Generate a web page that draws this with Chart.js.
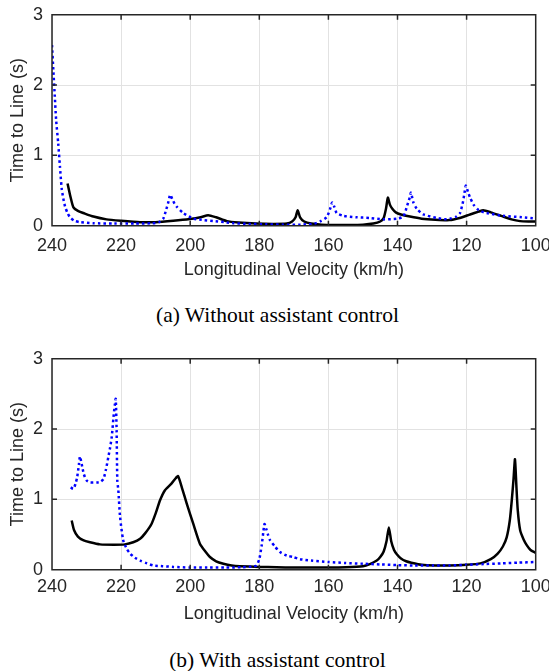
<!DOCTYPE html>
<html>
<head>
<meta charset="utf-8">
<script src="https://cdn.jsdelivr.net/npm/chart.js@4.4.1/dist/chart.umd.min.js"></script>
<style>
  html, body { margin: 0; padding: 0; background: #fff; }
  body { position: relative; width: 549px; height: 671px; overflow: hidden; }
  canvas { position: absolute; left: 0; }
  #chartA { top: 0; }
  #chartB { top: 343.6px; }
  .caption {
    position: absolute; left: 3px; width: 549px; text-align: center;
    font-family: "Liberation Serif", "Times New Roman", serif;
    font-size: 21.5px; line-height: 22px; color: #000;
  }
</style>
</head>
<body>
<canvas id="chartA" width="549" height="290"></canvas>
<div class="caption" style="top:304px">(a) Without assistant control</div>
<canvas id="chartB" width="549" height="290"></canvas>
<div class="caption" style="top:649px">(b) With assistant control</div>
<script>
"use strict";

// (a) without assistant control
const velBlackA = [235.5, 234.6, 233.8, 232.5, 230.9, 228, 224.2, 220, 214.5, 210,
  204.9, 200.1, 197, 194.8, 192.5, 189.4, 186, 181, 176, 172,
  170.5, 169.5, 168.9, 168.2, 167, 165, 162, 158, 154, 150,
  147, 145, 144, 143.3, 142.8, 142.2, 141.5, 140.5, 139, 136.4,
  133, 129, 125, 122, 119, 116.5, 115.2, 113, 110, 107,
  104.5, 102, 100];
const ttlBlackA = [0.6, 0.4, 0.26, 0.21, 0.18, 0.13, 0.09, 0.07, 0.05, 0.05,
  0.07, 0.095, 0.12, 0.15, 0.12, 0.065, 0.045, 0.03, 0.025, 0.03,
  0.06, 0.12, 0.22, 0.12, 0.06, 0.03, 0.015, 0.01, 0.01, 0.015,
  0.03, 0.06, 0.11, 0.25, 0.4, 0.3, 0.24, 0.19, 0.16, 0.13,
  0.1, 0.085, 0.08, 0.11, 0.16, 0.2, 0.22, 0.19, 0.14, 0.09,
  0.065, 0.06, 0.06];
const velBlueA = [240, 239.6, 239.2, 238.8, 238.2, 237.7, 237.2, 236.7, 236.2, 235.5,
  234.8, 233.5, 231.9, 228, 222, 216, 211, 209, 207.8, 207,
  206.3, 205.8, 205.2, 204.5, 203.9, 202, 199.1, 196, 193.3, 190,
  187.5, 183, 178, 173, 168, 164, 162.4, 160.5, 159.5, 158.9,
  158.3, 157.6, 155.7, 152, 148, 144.1, 140.2, 138.3, 137.3, 136.4,
  136.1, 135.4, 134.4, 132.5, 128.7, 125.8, 124.8, 123, 121.9, 121,
  120.5, 120.2, 119.6, 119, 118, 116.5, 114.2, 109.4, 104, 100];
const ttlBlueA = [2.57, 2.2, 1.85, 1.5, 1.17, 0.84, 0.53, 0.38, 0.27, 0.18,
  0.12, 0.07, 0.05, 0.035, 0.03, 0.03, 0.035, 0.05, 0.1, 0.22,
  0.34, 0.44, 0.38, 0.31, 0.27, 0.18, 0.1, 0.08, 0.067, 0.05,
  0.035, 0.025, 0.02, 0.015, 0.015, 0.03, 0.06, 0.12, 0.24, 0.33,
  0.27, 0.18, 0.14, 0.12, 0.11, 0.09, 0.1, 0.13, 0.27, 0.41,
  0.47, 0.33, 0.24, 0.16, 0.11, 0.09, 0.1, 0.13, 0.18, 0.35,
  0.5, 0.57, 0.48, 0.4, 0.3, 0.22, 0.18, 0.14, 0.12, 0.1];

// (b) with assistant control
const velBlackB = [234.3, 233.6, 232.5, 231, 229, 226.1, 222, 218.9, 216.5, 214.5,
  213, 211.2, 210, 208.7, 207.3, 205.5, 204.2, 203.5, 202.3, 201,
  199.1, 197.2, 195.5, 194.3, 192.5, 190.4, 188, 185.6, 180, 175,
  170, 165, 160, 155, 150, 148, 146, 145, 144, 143.2,
  142.5, 141.8, 141, 140.2, 139, 137.5, 136, 133, 129, 125,
  120, 116, 113, 111, 109.5, 108.4, 107.5, 106.9, 106.4, 106,
  105.6, 105.2, 104.5, 103.5, 102.6, 101.5, 100];
const ttlBlackB = [0.7, 0.56, 0.47, 0.42, 0.39, 0.36, 0.355, 0.36, 0.39, 0.44,
  0.52, 0.65, 0.8, 0.99, 1.13, 1.22, 1.3, 1.33, 1.15, 0.94,
  0.65, 0.37, 0.25, 0.18, 0.12, 0.085, 0.06, 0.05, 0.04, 0.035,
  0.03, 0.03, 0.03, 0.035, 0.05, 0.08, 0.13, 0.18, 0.26, 0.4,
  0.6, 0.4, 0.28, 0.22, 0.16, 0.12, 0.1, 0.07, 0.06, 0.06,
  0.07, 0.09, 0.15, 0.23, 0.33, 0.46, 0.7, 1.0, 1.3, 1.57,
  1.2, 0.85, 0.56, 0.43, 0.35, 0.28, 0.24];
const velBlueB = [234.6, 233.8, 233.2, 232.7, 232.2, 231.9, 231.4, 230.8, 230, 229,
  228, 227, 226, 225.1, 224.4, 223.7, 223.2, 222.7, 222.2, 221.8,
  221.55, 221.3, 221.1, 220.8, 220.3, 219.4, 218.4, 217.4, 216, 214.5,
  212.5, 210.7, 208, 204.9, 200, 195, 190, 185, 182, 180.8,
  180, 179.3, 178.8, 178.5, 178, 177.5, 176.9, 175.5, 174, 172,
  170.2, 168.2, 165, 160, 155, 150, 145, 140, 135, 130,
  125, 120, 115, 110, 105, 100];
const ttlBlueB = [1.17, 1.15, 1.22, 1.32, 1.5, 1.61, 1.5, 1.36, 1.27, 1.24,
  1.24, 1.24, 1.25, 1.29, 1.42, 1.6, 1.73, 1.89, 2.17, 2.35,
  2.43, 1.98, 1.27, 1.13, 0.75, 0.42, 0.3, 0.23, 0.17, 0.13,
  0.09, 0.06, 0.05, 0.04, 0.03, 0.03, 0.03, 0.035, 0.045, 0.06,
  0.15, 0.35, 0.55, 0.65, 0.58, 0.5, 0.42, 0.33, 0.25, 0.2,
  0.18, 0.15, 0.13, 0.11, 0.095, 0.085, 0.075, 0.065, 0.06, 0.06,
  0.06, 0.07, 0.08, 0.09, 0.1, 0.11];

const velTicks = [240, 220, 200, 180, 160, 140, 120, 100];
const ttlTicks = [0, 1, 2, 3];

const textColor = "#262626";
const axisFont = { family: "'Liberation Sans', Arial, sans-serif", size: 18 };

function points(xs, ys) {
  return xs.map((v, i) => ({ x: v, y: ys[i] }));
}

// full box with inward tick marks, MATLAB style
const boxPlugin = {
  id: "box",
  afterDatasetsDraw(chart) {
    const { ctx, chartArea: a, scales: { x, y } } = chart;
    ctx.save();
    ctx.strokeStyle = textColor;
    ctx.lineWidth = 1.5;
    ctx.beginPath();
    x.ticks.forEach(t => {
      const px = x.getPixelForValue(t.value);
      ctx.moveTo(px, a.bottom); ctx.lineTo(px, a.bottom - 5);
      ctx.moveTo(px, a.top); ctx.lineTo(px, a.top + 5);
    });
    y.ticks.forEach(t => {
      const py = y.getPixelForValue(t.value);
      ctx.moveTo(a.left, py); ctx.lineTo(a.left + 5, py);
      ctx.moveTo(a.right, py); ctx.lineTo(a.right - 5, py);
    });
    ctx.rect(a.left, a.top, a.right - a.left, a.bottom - a.top);
    ctx.stroke();
    ctx.restore();
  }
};

function makeChart(id, black, blue, tickPad) {
  const ctx = document.getElementById(id).getContext("2d");
  return new Chart(ctx, {
    type: "line",
    data: {
      datasets: [
        {
          label: "With control",
          data: black,
          borderColor: "#000000",
          borderWidth: 2.5,
          tension: 0.2,
          pointRadius: 0,
          fill: false,
          order: 1
        },
        {
          label: "Without control",
          data: blue,
          borderColor: "#0000ff",
          borderWidth: 2.5,
          borderDash: [2.5, 3],
          tension: 0.2,
          pointRadius: 0,
          fill: false,
          order: 0
        }
      ]
    },
    options: {
      responsive: false,
      animation: false,
      layout: { padding: { left: 0, right: 13.3, top: 14.7, bottom: 0 } },
      plugins: { legend: { display: false }, tooltip: { enabled: false } },
      scales: {
        x: {
          type: "linear",
          reverse: true,
          min: 100,
          max: 240,
          afterBuildTicks: s => { s.ticks = velTicks.map(v => ({ value: v })); },
          afterFit: s => { s.height = 64.3; s.paddingLeft = 0; s.paddingRight = 0; },
          grid: { color: "#e2e2e2", lineWidth: 1, drawTicks: false },
          border: { display: false },
          ticks: { color: textColor, font: axisFont, padding: tickPad, maxRotation: 0 },
          title: {
            display: true,
            text: "Longitudinal Velocity (km/h)",
            color: textColor,
            font: axisFont,
            padding: { top: 0, bottom: 9 }
          }
        },
        y: {
          min: 0,
          max: 3,
          afterBuildTicks: s => { s.ticks = ttlTicks.map(v => ({ value: v })); },
          afterFit: s => { s.width = 52; s.paddingTop = 0; s.paddingBottom = 0; },
          grid: { color: "#e2e2e2", lineWidth: 1, drawTicks: false },
          border: { display: false },
          ticks: { color: textColor, font: axisFont, padding: 9 },
          title: {
            display: true,
            text: "Time to Line (s)",
            color: textColor,
            font: axisFont,
            padding: { top: 7.2, bottom: 0 }
          }
        }
      }
    },
    plugins: [boxPlugin]
  });
}

makeChart("chartA", points(velBlackA, ttlBlackA), points(velBlueA, ttlBlueA), 10);
makeChart("chartB", points(velBlackB, ttlBlackB), points(velBlueB, ttlBlueB), 6.4);
</script>
</body>
</html>
